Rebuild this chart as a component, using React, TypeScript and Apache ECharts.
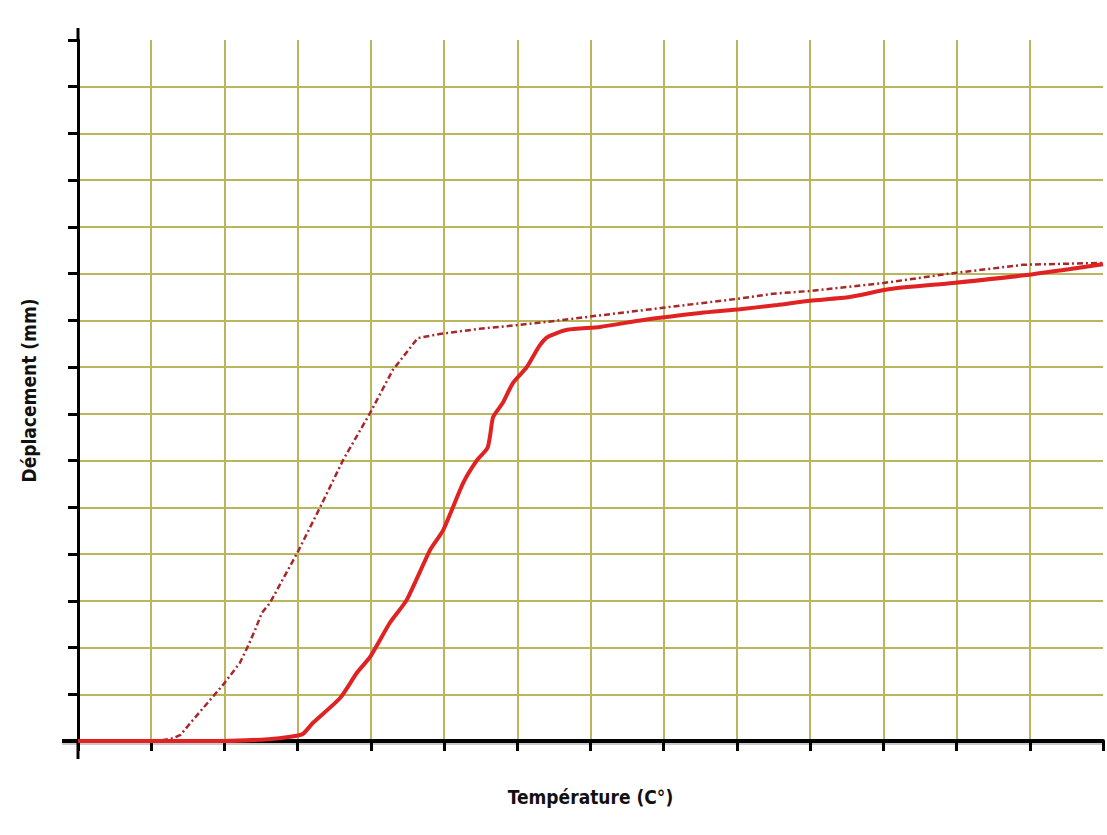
import React, { useEffect, useRef } from "react";
import * as echarts from "echarts";

const xTicks = [0, 14, 1];
const yTicks = [0, 15, 1];

const dottedSeries: [number, number][] = [
  [0, 0], [1.1, 0], [1.3, 0.06], [1.4, 0.13], [1.57, 0.45], [1.98, 1.2], [2.21, 1.67],
  [2.31, 1.99], [2.42, 2.38], [2.51, 2.74], [2.62, 2.95], [3.0, 4.04], [3.31, 5.01],
  [3.62, 6.01], [3.99, 7.02], [4.3, 7.94], [4.64, 8.62], [4.94, 8.71], [5.49, 8.82],
  [6.0, 8.9], [6.41, 8.97], [7.09, 9.1], [7.99, 9.27], [9.0, 9.46], [9.49, 9.57],
  [10.0, 9.63], [11.0, 9.8], [11.95, 10.01], [12.91, 10.19], [13.96, 10.23], [14, 10.23],
];

const solidSeries: [number, number][] = [
  [0, 0], [2.0, 0], [2.6, 0.04], [2.9, 0.09], [3.07, 0.15], [3.21, 0.39], [3.58, 0.92],
  [3.81, 1.46], [3.99, 1.8], [4.26, 2.53], [4.49, 3.02], [4.81, 4.09], [4.99, 4.52],
  [5.26, 5.52], [5.45, 6.01], [5.56, 6.2], [5.6, 6.3], [5.63, 6.55], [5.67, 6.93],
  [5.8, 7.23], [5.94, 7.66], [6.13, 8.0], [6.3, 8.45], [6.42, 8.65], [6.68, 8.8],
  [7.13, 8.86], [7.72, 9.01], [8.5, 9.16], [9.04, 9.24], [9.55, 9.33], [10.0, 9.42],
  [10.54, 9.5], [11.09, 9.67], [11.95, 9.8], [12.96, 9.97], [14, 10.2],
];

const xTitle = "Température (C°)";
const yTitle = "Déplacement (mm)";

const FONT = "'Liberation Sans Narrow', 'DejaVu Sans Condensed', 'Arial Narrow', sans-serif";
const GRID_COLOR = "#bab65e";

export default function App() {
  const ref = useRef<HTMLDivElement>(null);
  useEffect(() => {
    document.body.style.margin = "0";
    const chart = echarts.init(ref.current!, undefined, { renderer: "svg" });
    const L = 78, R = 4, T = 40, B = 94;
    chart.setOption({
      animation: false,
      backgroundColor: "#ffffff",
      grid: { left: L, right: R, top: T, bottom: B },
      xAxis: [
        {
          type: "value", min: xTicks[0], max: xTicks[1], interval: xTicks[2],
          axisLine: { show: true, lineStyle: { color: "#000", width: 4 } },
          axisTick: { show: false },
          axisLabel: { show: false },
          splitLine: { show: true, showMinLine: false, showMaxLine: false, lineStyle: { color: GRID_COLOR, width: 2 } },
          name: xTitle, nameLocation: "middle", nameGap: 46,
          nameTextStyle: { fontFamily: FONT, fontWeight: "bold", fontSize: 19, color: "#111" },
        },
        {
          type: "value", min: xTicks[0], max: xTicks[1], interval: xTicks[2], position: "bottom", offset: 6,
          axisLine: { show: false },
          axisTick: { show: true, length: 10, lineStyle: { color: "#000", width: 3 } },
          axisLabel: { show: false },
          splitLine: { show: false },
        },
      ],
      yAxis: [
        {
          type: "value", min: yTicks[0], max: yTicks[1], interval: yTicks[2],
          axisLine: { show: true, lineStyle: { color: "#000", width: 3 } },
          axisTick: { show: false },
          axisLabel: { show: false },
          splitLine: { show: true, showMinLine: false, showMaxLine: false, lineStyle: { color: GRID_COLOR, width: 2 } },
          name: yTitle, nameLocation: "middle", nameGap: 40,
          nameTextStyle: { fontFamily: FONT, fontWeight: "bold", fontSize: 19, color: "#111" },
        },
        {
          type: "value", min: yTicks[0], max: yTicks[1], interval: yTicks[2], position: "left", offset: 6,
          axisLine: { show: false },
          axisTick: { show: true, length: 10, lineStyle: { color: "#000", width: 3 } },
          axisLabel: { show: false },
          splitLine: { show: false },
        },
      ],
      graphic: [
        { type: "line", shape: { x1: 78, y1: 28, x2: 78, y2: 41 }, style: { stroke: "#000", lineWidth: 3 } },
        { type: "line", shape: { x1: 78, y1: 741, x2: 78, y2: 759 }, style: { stroke: "#000", lineWidth: 3 } },
        { type: "line", shape: { x1: 62, y1: 741, x2: 79, y2: 741 }, style: { stroke: "#000", lineWidth: 4 } },
        { type: "line", shape: { x1: 62, y1: 744, x2: 1103, y2: 744 }, style: { stroke: "#999", lineWidth: 1.5, opacity: 0.7 }, z: -1 },
      ],
      series: [
        {
          type: "line", data: dottedSeries, showSymbol: false, symbol: "none", xAxisIndex: 0, yAxisIndex: 0,
          lineStyle: { color: "#a8282a", width: 2.5, type: [6, 3, 2, 3] }, z: 3,
        },
        {
          type: "line", data: solidSeries, showSymbol: false, symbol: "none", xAxisIndex: 0, yAxisIndex: 0,
          smooth: 0.2,
          lineStyle: { color: "#e02222", width: 4 }, z: 4,
        },
      ],
    });
    return () => chart.dispose();
  }, []);
  return <div ref={ref} style={{ width: 1107, height: 835 }} />;
}
